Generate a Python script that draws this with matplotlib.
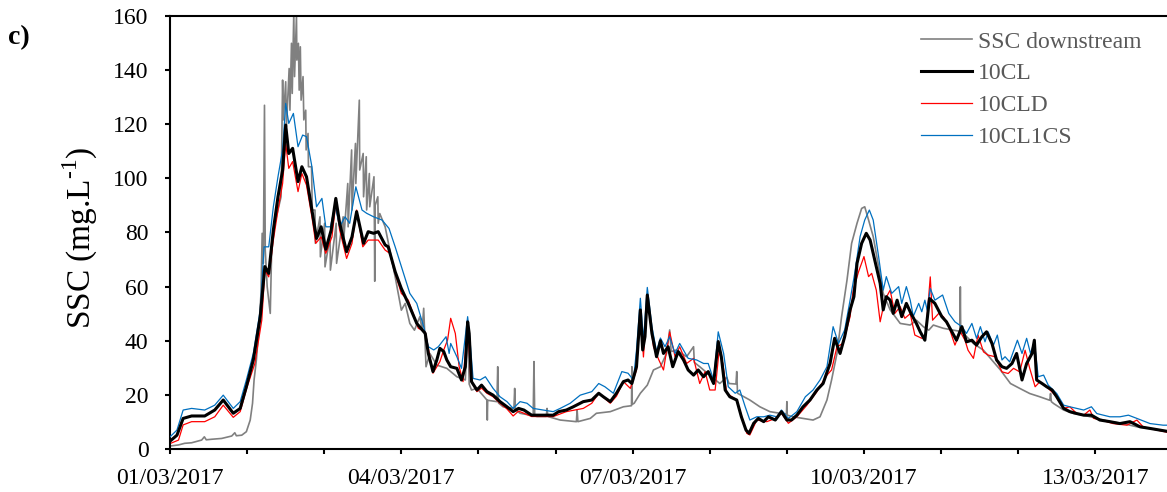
import matplotlib
matplotlib.use("Agg")
import matplotlib.pyplot as plt

plt.rcParams['font.family'] = ['Liberation Serif', 'DejaVu Serif']
plt.rcParams['mathtext.fontset'] = 'custom'
plt.rcParams['mathtext.rm'] = 'Liberation Serif'

# time in days since 01/03/2017 00:00, values in mg/L

# observed SSC downstream
t_obs = [0.0, 0.11, 0.19, 0.28, 0.41, 0.445, 0.47, 0.54, 0.67, 0.80, 0.84, 0.86, 0.93, 0.99,
         1.04, 1.07, 1.09, 1.12, 1.15, 1.18, 1.195, 1.21, 1.225, 1.235, 1.26, 1.30, 1.32, 1.36,
         1.40, 1.44, 1.46, 1.47, 1.50, 1.51, 1.545, 1.555, 1.575, 1.585, 1.605, 1.615, 1.64, 1.645,
         1.665, 1.675, 1.69, 1.70, 1.725, 1.735, 1.76, 1.765, 1.79, 1.795, 1.835, 1.845, 1.88, 1.885,
         1.945, 1.95, 2.005, 2.01, 2.075, 2.08, 2.155, 2.16, 2.245, 2.25, 2.305, 2.31, 2.355, 2.36,
         2.405, 2.41, 2.455, 2.46, 2.505, 2.51, 2.545, 2.55, 2.585, 2.59, 2.645, 2.65, 2.655, 2.66,
         2.695, 2.70, 2.72,
         2.79, 2.85, 2.92, 2.96, 3.00, 3.05, 3.11, 3.17, 3.24, 3.27, 3.29, 3.32, 3.37, 3.46,
         3.59, 3.72, 3.83, 3.86, 3.88, 3.91, 3.98, 4.11, 4.115, 4.12, 4.24, 4.25, 4.26, 4.32,
         4.46, 4.47, 4.48, 4.54, 4.71, 4.72, 4.73, 4.76, 4.88, 4.89, 4.90, 5.06, 5.27, 5.28,
         5.29, 5.45, 5.53, 5.71, 5.88, 5.985, 5.99, 5.995, 6.02, 6.10, 6.19, 6.27, 6.36, 6.44,
         6.48, 6.50, 6.57, 6.70, 6.79, 6.80, 6.87, 7.00, 7.13, 7.22, 7.25, 7.34, 7.35, 7.36,
         7.52, 7.65, 7.78, 7.91, 7.995, 8.00, 8.005, 8.08, 8.21, 8.34, 8.43, 8.52, 8.58, 8.65,
         8.71, 8.78, 8.84, 8.91, 8.97, 9.01, 9.06, 9.12, 9.19, 9.25, 9.34, 9.47, 9.60, 9.68,
         9.77, 9.84, 9.90, 10.03, 10.16, 10.245, 10.25, 10.255, 10.29, 10.42, 10.55, 10.68,
         10.77, 10.90, 11.02, 11.15, 11.28, 11.41, 11.42, 11.43, 11.46, 11.59, 11.72, 11.85,
         12.02, 12.19, 12.36, 12.54, 12.71, 12.96]
ssc_obs = [1.1, 1.5, 2.1, 2.3, 3.3, 4.5, 3.4, 3.6, 3.9, 4.8, 6.0, 4.9, 5.1, 6.4,
           10.7, 16.9, 25.5, 32.9, 43.9, 57.5, 79.7, 68.6, 127.0, 73.5, 60.0, 50.1, 76.0, 83.4,
           88.3, 93.2, 136.3, 121.6, 135.7, 119.1, 140.6, 125.2, 149.9, 131.4, 161.0, 137.6, 160.0, 143.7,
           149.9, 132.6, 148.6, 128.9, 137.6, 121.6, 125.2, 110.5, 116.6, 104.3, 104.3, 88.3, 88.3, 76.0,
           85.8, 71.0, 83.4, 67.3, 78.4, 66.1, 83.4, 68.6, 85.8, 76.0, 98.1, 82.1, 110.5, 88.3,
           112.9, 98.1, 128.9, 103.1, 109.2, 93.2, 108.0, 88.3, 101.8, 89.5, 100.6, 85.8, 62.0, 90.0,
           93.2, 83.4, 87.0,
           82.1, 73.5, 63.6, 57.5, 51.3, 53.8, 46.4, 43.9, 48.9, 44.0, 52.0, 30.4, 35.3, 31.0,
           29.8, 26.7, 25.5, 47.0, 24.0, 21.8, 22.4, 18.1, 10.7, 18.0, 17.5, 30.4, 17.0, 15.6,
           15.0, 22.4, 14.5, 13.2, 12.3, 32.3, 12.2, 12.0, 12.0, 15.0, 12.0, 10.7, 10.1, 14.4,
           10.1, 11.3, 13.2, 13.8, 15.6, 16.0, 30.4, 16.5, 16.9, 20.6, 23.6, 29.2, 30.4, 35.3,
           44.0, 36.0, 36.6, 34.1, 37.8, 32.0, 30.4, 27.3, 24.2, 26.5, 24.2, 24.0, 28.6, 20.6,
           18.1, 15.6, 13.8, 13.2, 13.0, 17.5, 12.5, 11.9, 11.3, 10.7, 11.9, 18.1, 25.5, 35.3,
           48.9, 62.4, 76.0, 83.4, 88.9, 89.5, 84.6, 78.5, 67.4, 57.5, 51.4, 46.4, 45.8, 47.6,
           45.2, 43.9, 45.8, 44.6, 43.9, 43.5, 59.9, 43.0, 42.7, 39.0, 36.5, 32.2,
           29.2, 24.2, 22.4, 20.5, 19.3, 18.0, 20.5, 17.5, 16.8, 14.4, 13.1, 12.5,
           11.3, 10.1, 9.4, 8.2, 7.6, 6.4]

# model 10CL
t_cl = [0.0, 0.09, 0.17, 0.28, 0.45, 0.58, 0.69, 0.82, 0.91, 0.99, 1.08, 1.17, 1.23, 1.28,
        1.34, 1.40, 1.46, 1.50, 1.54, 1.59, 1.66, 1.71, 1.77, 1.84, 1.90, 1.96, 2.02, 2.09,
        2.15, 2.20, 2.29, 2.36, 2.42, 2.51, 2.57, 2.64, 2.70, 2.79, 2.83, 2.92, 3.00, 3.09,
        3.20, 3.31, 3.35, 3.41, 3.46, 3.50, 3.55, 3.59, 3.64, 3.72, 3.78, 3.83, 3.86, 3.88,
        3.91, 3.98, 4.04, 4.11, 4.19, 4.28, 4.37, 4.45, 4.52, 4.59, 4.69, 4.84, 4.97, 5.04,
        5.14, 5.23, 5.36, 5.47, 5.56, 5.62, 5.71, 5.79, 5.88, 5.94, 5.99, 6.05, 6.10, 6.13,
        6.16, 6.19, 6.25, 6.31, 6.36, 6.40, 6.46, 6.52, 6.59, 6.66, 6.72, 6.79, 6.85, 6.92,
        6.98, 7.05, 7.11, 7.15, 7.20, 7.26, 7.35, 7.41, 7.47, 7.51, 7.57, 7.63, 7.70, 7.76,
        7.85, 7.93, 8.00, 8.06, 8.13, 8.21, 8.30, 8.39, 8.47, 8.56, 8.62, 8.69, 8.75, 8.82,
        8.87, 8.91, 8.97, 9.03, 9.08, 9.14, 9.21, 9.25, 9.29, 9.34, 9.38, 9.43, 9.49, 9.55,
        9.61, 9.68, 9.73, 9.79, 9.85, 9.92, 10.01, 10.07, 10.14, 10.20, 10.27, 10.33, 10.40, 10.46,
        10.53, 10.59, 10.66, 10.72, 10.79, 10.85, 10.92, 10.98, 11.05, 11.11, 11.18, 11.21, 11.24, 11.31,
        11.37, 11.44, 11.50, 11.59, 11.67, 11.76, 11.85, 11.95, 12.06, 12.19, 12.32, 12.45, 12.58, 12.71,
        12.96]
ssc_cl = [2.9, 5.1, 11.3, 12.2, 12.2, 14.4, 18.1, 13.2, 15.0, 23.0, 32.9, 48.9, 67.4, 64.9,
          80.9, 93.2, 103.0, 119.7, 109.2, 111.1, 98.8, 104.3, 100.6, 88.3, 77.8, 82.1, 73.8, 80.9,
          92.6, 83.4, 72.9, 78.4, 87.7, 76.0, 80.3, 79.7, 80.3, 75.4, 74.7, 65.5, 59.3, 53.8,
          46.4, 42.7, 35.3, 28.6, 32.9, 37.2, 36.0, 32.9, 30.4, 29.8, 25.5, 30.4, 47.0, 42.7,
          24.9, 21.8, 23.6, 21.2, 19.9, 17.5, 15.6, 13.8, 15.0, 14.4, 12.5, 12.5, 12.5, 13.8,
          14.4, 15.6, 17.5, 18.1, 20.6, 19.3, 17.5, 20.6, 24.9, 25.5, 24.2, 30.4, 51.4, 36.6,
          41.5, 56.9, 42.7, 34.1, 40.0, 35.3, 37.8, 30.4, 36.0, 32.9, 29.2, 27.3, 29.2, 26.7,
          28.6, 24.2, 39.7, 34.1, 21.8, 19.3, 18.1, 11.9, 7.0, 5.8, 9.5, 11.3, 10.1, 11.9,
          10.7, 13.8, 10.7, 10.7, 12.5, 15.6, 18.1, 21.8, 24.2, 31.6, 40.9, 35.3, 41.5, 51.4,
          56.3, 68.6, 76.0, 79.7, 77.2, 69.8, 61.2, 51.4, 56.3, 55.0, 50.1, 55.0, 48.9, 53.8,
          50.1, 46.4, 43.3, 40.2, 55.6, 53.8, 48.9, 47.0, 43.3, 40.2, 45.2, 39.6, 40.2, 38.4,
          41.5, 43.3, 39.0, 32.9, 30.4, 29.8, 31.6, 35.3, 25.5, 31.6, 35.3, 40.2, 25.5, 24.2,
          23.0, 21.8, 19.3, 15.0, 13.8, 13.1, 12.5, 12.5, 10.7, 10.1, 9.4, 10.1, 8.2, 7.6,
          6.4]

# model 10CLD
t_cld = [0.0, 0.11, 0.17, 0.28, 0.45, 0.58, 0.69, 0.82, 0.91, 1.00, 1.10, 1.19, 1.23, 1.28,
         1.34, 1.40, 1.46, 1.50, 1.54, 1.59, 1.66, 1.71, 1.77, 1.84, 1.89, 1.96, 2.02, 2.10,
         2.15, 2.20, 2.29, 2.36, 2.42, 2.50, 2.57, 2.70, 2.79, 2.85, 2.92, 3.00, 3.09, 3.16,
         3.22, 3.31, 3.41, 3.50, 3.55, 3.60, 3.64, 3.70, 3.75, 3.80, 3.86, 3.90, 3.98, 4.04,
         4.11, 4.19, 4.28, 4.37, 4.45, 4.52, 4.59, 4.69, 4.84, 4.97, 5.14, 5.36, 5.47, 5.56,
         5.71, 5.79, 5.88, 5.97, 6.05, 6.10, 6.14, 6.19, 6.27, 6.34, 6.40, 6.48, 6.55, 6.61,
         6.70, 6.79, 6.87, 6.94, 7.00, 7.07, 7.12, 7.17, 7.22, 7.35, 7.48, 7.52, 7.61, 7.74,
         7.85, 7.93, 8.02, 8.13, 8.26, 8.39, 8.52, 8.58, 8.65, 8.73, 8.82, 8.86, 8.93, 9.00,
         9.06, 9.10, 9.16, 9.21, 9.27, 9.34, 9.40, 9.47, 9.53, 9.60, 9.66, 9.75, 9.80, 9.86,
         9.89, 9.97, 10.03, 10.10, 10.18, 10.25, 10.31, 10.35, 10.42, 10.48, 10.55, 10.61, 10.70, 10.79,
         10.87, 10.94, 11.02, 11.09, 11.15, 11.22, 11.28, 11.37, 11.48, 11.59, 11.67, 11.76, 11.85, 11.93,
         11.98, 12.08, 12.23, 12.41, 12.54, 12.62, 12.80, 12.96]
ssc_cld = [2.0, 3.3, 8.9, 10.1, 10.1, 11.9, 16.2, 11.7, 13.8, 23.0, 31.6, 47.6, 66.1, 63.6,
           77.2, 88.3, 98.1, 112.9, 103.7, 106.2, 95.1, 101.8, 97.5, 85.8, 76.0, 78.4, 72.3, 78.4,
           90.8, 80.9, 70.4, 76.0, 88.3, 74.7, 77.2, 77.2, 73.5, 72.3, 64.9, 57.5, 55.0, 49.5,
           44.6, 43.3, 28.0, 32.3, 36.6, 40.3, 48.3, 42.7, 30.4, 24.9, 47.0, 25.5, 21.2, 22.5,
           20.6, 19.3, 16.9, 14.8, 12.2, 14.0, 13.2, 12.0, 12.0, 12.0, 13.8, 15.0, 16.9, 20.6,
           16.9, 19.5, 24.9, 22.4, 29.2, 51.4, 34.0, 56.3, 37.8, 32.9, 29.2, 43.3, 34.1, 37.8,
           31.6, 33.5, 24.2, 28.6, 21.8, 21.8, 36.0, 31.6, 20.6, 18.1, 5.8, 5.2, 10.7, 10.1,
           11.3, 13.2, 9.5, 11.9, 16.2, 21.2, 27.3, 29.2, 37.8, 39.0, 48.9, 58.7, 65.5, 71.1,
           63.7, 64.9, 58.7, 47.0, 55.0, 58.7, 50.1, 52.6, 48.3, 50.0, 42.1, 40.9, 42.1, 63.6,
           47.6, 50.1, 48.9, 45.2, 38.4, 43.3, 40.2, 36.5, 33.5, 42.1, 35.9, 34.7, 34.1, 28.5,
           27.9, 29.8, 28.5, 36.5, 29.8, 23.0, 24.8, 23.0, 19.9, 15.0, 15.6, 13.1, 12.5, 14.4,
           11.3, 10.7, 9.4, 8.8, 10.7, 8.2, 7.0, 6.0]

# model 10CL1CS
t_cs = [0.0, 0.09, 0.17, 0.28, 0.45, 0.58, 0.69, 0.82, 0.91, 0.99, 1.08, 1.17, 1.22, 1.28,
        1.34, 1.40, 1.46, 1.50, 1.54, 1.60, 1.66, 1.72, 1.77, 1.84, 1.90, 1.97, 2.02, 2.08,
        2.14, 2.20, 2.27, 2.33, 2.41, 2.49, 2.55, 2.64, 2.75, 2.84, 2.92, 3.00, 3.11, 3.20,
        3.29, 3.35, 3.42, 3.48, 3.58, 3.62, 3.64, 3.72, 3.78, 3.86, 3.89, 3.93, 4.02, 4.09,
        4.19, 4.28, 4.37, 4.45, 4.54, 4.63, 4.71, 4.84, 4.97, 5.06, 5.19, 5.32, 5.47, 5.56,
        5.64, 5.75, 5.86, 5.94, 6.01, 6.05, 6.10, 6.14, 6.19, 6.25, 6.31, 6.36, 6.42, 6.48,
        6.55, 6.61, 6.72, 6.83, 6.92, 6.98, 7.05, 7.11, 7.18, 7.24, 7.33, 7.39, 7.46, 7.52,
        7.61, 7.70, 7.78, 7.87, 7.93, 8.02, 8.13, 8.24, 8.34, 8.43, 8.52, 8.60, 8.67, 8.75,
        8.82, 8.88, 8.95, 9.01, 9.07, 9.12, 9.19, 9.25, 9.29, 9.36, 9.45, 9.49, 9.55, 9.60,
        9.64, 9.71, 9.75, 9.79, 9.82, 9.86, 9.92, 10.02, 10.10, 10.18, 10.27, 10.33, 10.40, 10.46,
        10.51, 10.57, 10.61, 10.68, 10.73, 10.79, 10.83, 10.89, 10.99, 11.05, 11.11, 11.16, 11.21, 11.26,
        11.33, 11.39, 11.50, 11.59, 11.67, 11.85, 11.95, 12.02, 12.19, 12.32, 12.43, 12.54, 12.71, 12.88,
        12.96]
ssc_cs = [4.5, 7.0, 14.4, 15.0, 14.4, 16.2, 19.9, 15.0, 17.5, 25.5, 35.3, 51.3, 74.7, 74.7,
          89.5, 100.6, 110.5, 127.7, 120.3, 124.0, 111.7, 116.0, 115.4, 104.3, 89.5, 92.6, 82.1, 82.1,
          90.1, 82.1, 85.8, 83.4, 96.9, 88.3, 87.1, 85.8, 84.6, 81.5, 74.7, 67.4, 57.5, 53.8,
          45.2, 37.8, 36.6, 37.8, 41.5, 35.3, 39.0, 34.1, 29.8, 48.9, 40.3, 26.1, 25.5, 26.7,
          22.4, 19.3, 17.5, 15.0, 17.5, 16.9, 15.0, 14.4, 13.8, 15.0, 16.9, 19.9, 21.2, 24.2,
          23.0, 20.6, 28.6, 28.0, 25.5, 36.6, 55.7, 40.3, 59.7, 45.2, 36.0, 41.0, 37.8, 41.5,
          35.3, 39.0, 33.5, 32.9, 31.6, 31.6, 25.5, 43.3, 35.3, 23.0, 20.6, 21.8, 15.6, 10.7,
          11.9, 11.9, 12.5, 11.9, 14.4, 11.3, 13.8, 19.3, 21.8, 25.5, 30.4, 45.2, 39.0, 44.0,
          55.0, 64.9, 78.5, 84.6, 88.3, 84.6, 71.1, 58.7, 63.7, 57.5, 60.0, 53.8, 60.0, 55.0,
          49.0, 53.8, 50.7, 55.0, 51.3, 59.3, 55.0, 56.9, 50.1, 47.0, 45.2, 42.7, 46.4, 40.9,
          45.2, 39.6, 43.3, 38.4, 42.1, 32.9, 34.1, 32.2, 40.2, 35.3, 40.9, 35.3, 39.6, 26.7,
          27.3, 23.6, 20.5, 16.2, 15.6, 14.4, 15.6, 13.1, 11.9, 11.9, 12.5, 11.3, 9.4, 8.8,
          8.8]

day_ticks = list(range(13))
day_labels = ['01/03/2017', '', '', '04/03/2017', '', '', '07/03/2017', '', '',
              '10/03/2017', '', '', '13/03/2017']
y_ticks = [0, 20, 40, 60, 80, 100, 120, 140, 160]

fig = plt.figure(figsize=(11.67, 4.92), dpi=100)
ax = fig.add_axes([0.1457, 0.0874, 0.8589, 0.8801])

l_obs, = ax.plot(t_obs, ssc_obs, color='#808080', lw=1.2, zorder=1)
l_cld, = ax.plot(t_cld, ssc_cld, color='#FF0000', lw=0.9, zorder=2)
l_cs, = ax.plot(t_cs, ssc_cs, color='#0070C0', lw=0.9, zorder=3)
l_cl, = ax.plot(t_cl, ssc_cl, color='black', lw=2.2, zorder=4)

ax.set_xlim(0, 13)
ax.set_ylim(0, 160)
ax.set_xticks(day_ticks)
ax.set_xticklabels(day_labels)
ax.set_yticks(y_ticks)
ax.tick_params(axis='both', direction='out', length=3.5, width=1.5, labelsize=17, colors='black')
ax.tick_params(axis='x', pad=10)
ax.tick_params(axis='y', pad=12)
for side in ['left', 'bottom', 'top']:
    ax.spines[side].set_linewidth(1.5)
ax.spines['right'].set_visible(False)

fig.text(80 / 1167, 1 - 238 / 492, r'SSC (mg.L$^{\text{-1}}$)', rotation=90,
         ha='center', va='center', fontsize=24)
fig.text(8 / 1167, 1 - 38 / 492, 'c)', fontsize=20, fontweight='bold', ha='left', va='center')

leg = fig.legend(handles=[l_obs, l_cl, l_cld, l_cs],
                 labels=['SSC downstream', '10CL', '10CLD', '10CL1CS'],
                 loc='upper left', bbox_to_anchor=(921 / 1167, 1 - 31 / 492),
                 frameon=False, fontsize=17, handlelength=2.15, handletextpad=0.27,
                 labelspacing=0.44, borderpad=0, borderaxespad=0)
for txt in leg.get_texts():
    txt.set_color('#595959')

fig.savefig('out.png', dpi=100)
